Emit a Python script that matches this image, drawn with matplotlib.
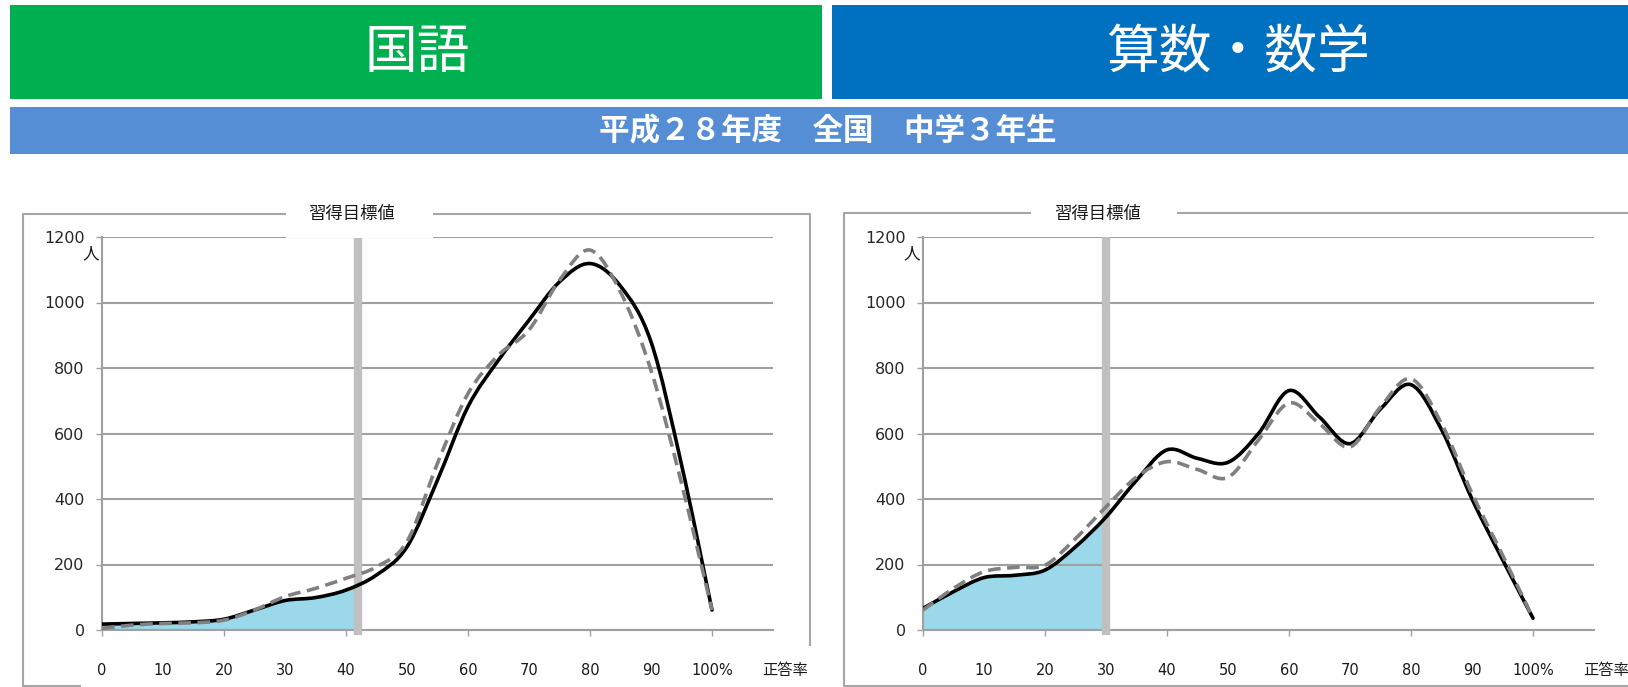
import numpy as np
import matplotlib
matplotlib.use('Agg')
import matplotlib.pyplot as plt
from matplotlib.path import Path
from matplotlib.patches import PathPatch, Rectangle
from matplotlib.lines import Line2D

plt.rcParams['font.family'] = ['Noto Sans CJK JP', 'DejaVu Sans']

# --- data ---
score = [0, 5, 10, 15, 20, 25, 30, 35, 40, 45, 50, 55, 60, 65, 70, 75, 80, 85, 90, 95, 100]

kokugo_solid = [18, 20, 22, 25, 33, 61, 90, 99, 122, 168, 254, 458, 682, 824, 946, 1063, 1119, 1050, 880, 505, 61]
kokugo_dash = [5, 15, 20, 22, 30, 61, 102, 127, 158, 193, 270, 509, 722, 839, 916, 1068, 1160, 1032, 793, 448, 61]
kokugo_goal = 42

sugaku_solid = [66, 117, 160, 167, 183, 254, 345, 457, 550, 524, 512, 600, 731, 650, 569, 675, 749, 612, 400, 215, 36]
sugaku_dash = [61, 127, 178, 191, 198, 279, 376, 467, 514, 490, 466, 580, 693, 630, 559, 681, 767, 630, 417, 229, 36]
sugaku_goal = 30

yticks = [0, 200, 400, 600, 800, 1000, 1200]
xlabels = ['0', '10', '20', '30', '40', '50', '60', '70', '80', '90', '100%']
xlabel_pos = [0, 10, 20, 30, 40, 50, 60, 70, 80, 90, 100]

W, H = 1628, 687
fig = plt.figure(figsize=(W / 100, H / 100), dpi=100)


def fx(px):
    return px / W


def fy(py):
    return 1 - py / H


def rect(x0, y0, x1, y1, color, z=1):
    fig.add_artist(Rectangle((fx(x0), fy(y1)), (x1 - x0) / W, (y1 - y0) / H,
                             transform=fig.transFigure, facecolor=color,
                             edgecolor='none', zorder=z))


def fline(xs, ys):
    fig.add_artist(Line2D([fx(v) for v in xs], [fy(v) for v in ys],
                          transform=fig.transFigure, color='#a6a6a6', lw=1.5, zorder=1.5))


def smooth(xs, ys):
    # excel-like smoothed line: catmull-rom segments as cubic beziers
    pts = np.column_stack([xs, ys]).astype(float)
    verts = [pts[0]]
    codes = [Path.MOVETO]
    n = len(pts)
    for i in range(n - 1):
        p0 = pts[i - 1] if i > 0 else pts[i]
        p1 = pts[i]
        p2 = pts[i + 1]
        p3 = pts[i + 2] if i + 2 < n else pts[i + 1]
        verts += [p1 + (p2 - p0) / 6, p2 - (p3 - p1) / 6, p2]
        codes += [Path.CURVE4] * 3
    return verts, codes


# headers
rect(10, 5, 822, 99, '#00b050')
rect(832, 5, 1628, 99, '#0070c0')
rect(10, 107, 1628, 154, '#558ed5')
fig.text(fx(417), fy(52), '国語', color='white', fontsize=38, ha='center', va='center')
fig.text(fx(1238), fy(52), '算数・数学', color='white', fontsize=38, ha='center', va='center')
fig.text(fx(828), fy(131), '平成２８年度　全国　中学３年生', color='white', fontsize=22,
         fontweight='bold', ha='center', va='center')

# outer boxes
fline([23, 23, 810, 810], [686, 214, 214, 645])
fline([23, 80], [686, 686])
fline([1640, 844, 844, 1640], [213, 213, 686, 686])

panels = [
    (102, kokugo_solid, kokugo_dash, kokugo_goal, (286, 433, 205, 238), 352),
    (923, sugaku_solid, sugaku_dash, sugaku_goal, (1031, 1177, 205, 222), 1098),
]

for left_px, solid, dash, goal, wbox, title_x in panels:
    ax = fig.add_axes([fx(left_px), fy(630), 671 / W, 393 / H])
    ax.set_xlim(0, 110)
    ax.set_ylim(0, 1200)
    ax.set_yticks(yticks)
    ax.set_yticklabels([str(v) for v in yticks], fontsize=11.5, color='#262626',
                       family=['DejaVu Sans'])
    ax.set_xticks([0, 20, 40, 60, 80, 100])
    ax.set_xticklabels([])
    ax.tick_params(direction='out', length=4.5, width=1, color='#a0a0a0', pad=8)
    ax.grid(axis='y', color='#a0a0a0', lw=1.5)
    ax.set_axisbelow(False)
    for s in ['top', 'right']:
        ax.spines[s].set_visible(False)
    for s in ['left', 'bottom']:
        ax.spines[s].set_color('#a0a0a0')
        ax.spines[s].set_linewidth(1.5)

    verts, codes = smooth(score, solid)

    # area below the goal
    fverts = verts + [(score[-1], 0), (score[0], 0), (score[0], solid[0])]
    fcodes = codes + [Path.LINETO, Path.LINETO, Path.CLOSEPOLY]
    area = PathPatch(Path(fverts, fcodes), facecolor='#9bd8ea', edgecolor='none', zorder=1)
    ax.add_patch(area)
    clip = Rectangle((0, 0), goal, 1200, transform=ax.transData)
    area.set_clip_path(clip)

    ax.plot([goal, goal], [-15, 1200], color='#c0c0c0', lw=6, solid_capstyle='butt',
            zorder=2.7, clip_on=False)

    ax.add_patch(PathPatch(Path(verts, codes), fill=False, edgecolor='black', lw=2.6,
                           capstyle='round', joinstyle='round', zorder=3))
    dverts, dcodes = smooth(score, dash)
    ax.add_patch(PathPatch(Path(dverts, dcodes), fill=False, edgecolor='#808080', lw=2.6,
                           linestyle=(0, (3.5, 1.8)), zorder=3.1))

    tr = ax.get_xaxis_transform()
    for p, lab in zip(xlabel_pos, xlabels):
        ax.text(p, -0.102, lab, transform=tr, ha='center', va='center', fontsize=10.5,
                color='#1a1a1a', family=['DejaVu Sans'], clip_on=False)
    ax.text(1.018, -0.102, '正答率', transform=ax.transAxes, ha='center', va='center',
            fontsize=11, color='#1a1a1a', clip_on=False)
    ax.text(-0.017, 0.958, '人', transform=ax.transAxes, ha='center', va='center',
            fontsize=12, color='#1a1a1a', clip_on=False)

    x0, x1, y0, y1 = wbox
    rect(x0, y0, x1, y1, 'white', z=1.6)
    fig.text(fx(title_x), fy(214), '習得目標値', fontsize=12.5, color='#1a1a1a',
             ha='center', va='center', zorder=3)

fig.savefig('out.png', dpi=100, facecolor='white')
